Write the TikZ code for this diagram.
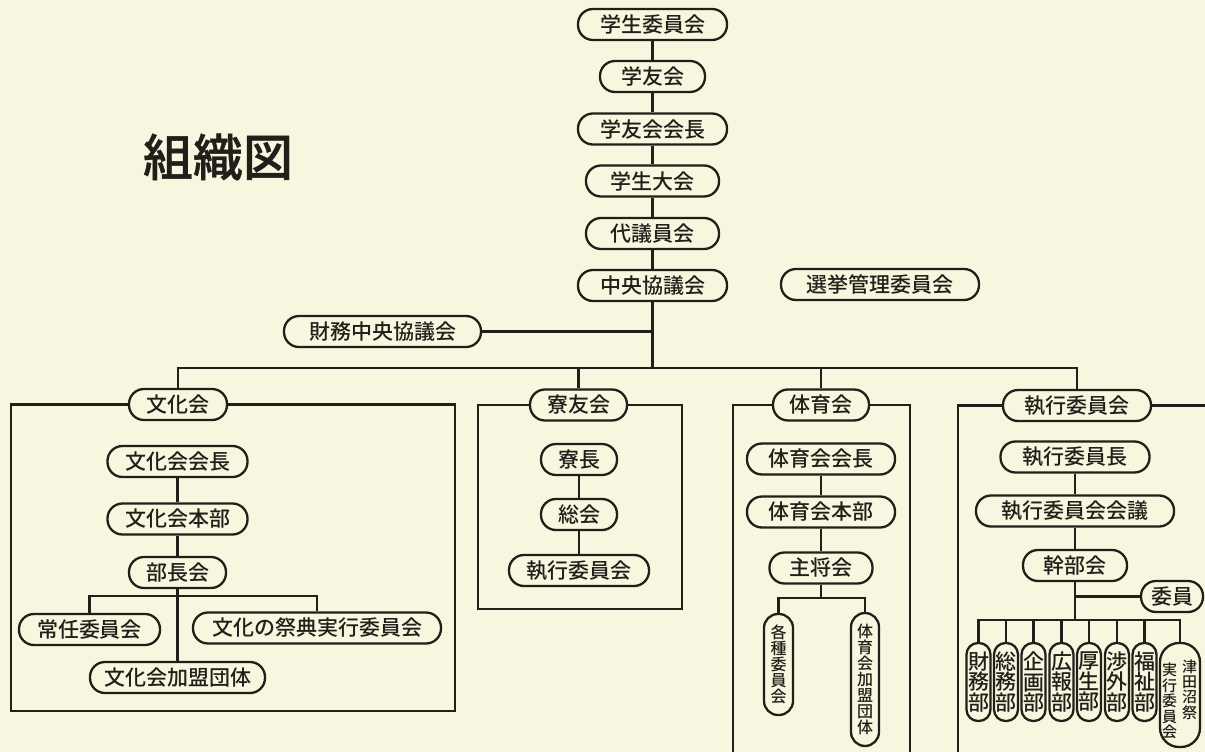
\documentclass[tikz,border=0pt]{standalone}
\usepackage{fontspec}
\setmainfont{Noto Sans CJK JP Medium}
\newfontfamily\ttlfont[FakeBold=0.8]{Noto Sans CJK JP Medium}
\definecolor{ink}{HTML}{221E1A}
\definecolor{bg}{HTML}{F8F6DF}
\begin{document}
\begin{tikzpicture}[x=1pt,y=-1pt,
  box/.style={draw=ink, fill=bg, line width=2.3pt, rounded corners=15pt, inner sep=0pt,
    minimum height=31pt, text=ink, font=\fontsize{21}{21}\selectfont},
  vbox/.style={box, rounded corners=14pt, align=center, font=\fontsize{16}{16.1}\selectfont},
  bubox/.style={box, rounded corners=11.5pt, align=center, minimum width=24pt, minimum height=78pt,
    font=\fontsize{21}{20.5}\selectfont},
  vtext/.style={inner sep=0pt, align=center, text=ink, font=\fontsize{15}{15.4}\selectfont},
  link/.style={draw=ink, line width=2.3pt},
  title/.style={inner sep=0pt, text=ink, font=\ttlfont\fontsize{50}{50}\selectfont}]
\fill[bg] (0,0) rectangle (1205,752);
\useasboundingbox (0,0) rectangle (1205,752);

\node[title] (ttl) at (218,157) {組織図};

% top column
\node[box, minimum width=149pt] (iin) at (652.5,24.5) {学生委員会};
\node[box, minimum width=105pt] (gakuyu) at (652.5,76.5) {学友会};
\node[box, minimum width=149pt] (kaicho) at (652.5,129) {学友会会長};
\node[box, minimum width=133pt] (taikai) at (652.5,181) {学生大会};
\node[box, minimum width=133pt] (daigi) at (652.5,233.5) {代議員会};
\node[box, minimum width=149pt] (chuo) at (652.5,285.5) {中央協議会};
\node[box, minimum width=198pt] (senkyo) at (880,284.5) {選挙管理委員会};
\node[box, minimum width=197pt] (zaimu) at (382.5,331.5) {財務中央協議会};

\draw[link] (iin) -- (gakuyu);
\draw[link] (gakuyu) -- (kaicho);
\draw[link] (kaicho) -- (taikai);
\draw[link] (taikai) -- (daigi);
\draw[link] (daigi) -- (chuo);
\coordinate (busC) at (652.5,368);
\draw[link] (chuo) -- (busC);
\draw[link] (zaimu.east) -- (zaimu.east -| busC);

% second level
\node[box, minimum width=98pt] (bunka) at (178,404.5) {文化会};
\node[box, minimum width=97pt] (ryoyu) at (578.5,405) {寮友会};
\node[box, minimum width=96pt] (taiiku) at (821,405) {体育会};
\node[box, minimum width=148pt] (shikko) at (1077,405.5) {執行委員会};

\draw[link] (bunka) |- (busC) -| (shikko);
\draw[link] (ryoyu) -- (ryoyu |- busC);
\draw[link] (taiiku) -- (taiiku |- busC);

% frames
\draw[link] (bunka.west) -- (11,404.5) -- (11,711) -- (455,711) -- (455,404.5) -- (bunka.east);
\draw[link] (ryoyu.west) -- (478,405) -- (478,609) -- (682,609) -- (682,405) -- (ryoyu.east);
\draw[link] (taiiku.west) -- (733,405) -- (733,752);
\draw[link] (taiiku.east) -- (910,405) -- (910,752);
\draw[link] (shikko.west) -- (958,405.5) -- (958,752);
\draw[link] (shikko.east) -- (1205,405.5);

% 文化会
\node[box, minimum width=140pt] (bk1) at (177.5,461.5) {文化会会長};
\node[box, minimum width=140pt] (bk2) at (177.5,519) {文化会本部};
\node[box, minimum width=97pt] (bk3) at (177.5,572.5) {部長会};
\node[box, minimum width=141pt] (bk4) at (89.5,629.5) {常任委員会};
\node[box, minimum width=248pt] (bk5) at (317,628) {文化の祭典実行委員会};
\node[box, minimum width=175pt] (bk6) at (177.5,677.5) {文化会加盟団体};
\draw[link] (bk1) -- (bk2);
\draw[link] (bk2) -- (bk3);
\draw[link] (bk3) -- (bk6);
\coordinate (bkbr) at (177.5,596);
\draw[link] (bk4) |- (bkbr) -| (bk5);

% 寮友会
\node[box, minimum width=76pt] (r1) at (579,459.5) {寮長};
\node[box, minimum width=76pt] (r2) at (579,514.5) {総会};
\node[box, minimum width=140pt] (r3) at (579,570.5) {執行委員会};
\draw[link] (r1) -- (r2);
\draw[link] (r2) -- (r3);

% 体育会
\node[box, minimum width=148pt] (t1) at (821,459) {体育会会長};
\node[box, minimum width=148pt] (t2) at (821,512) {体育会本部};
\node[box, minimum width=103pt] (t3) at (821,568) {主将会};
\node[vbox, minimum width=29pt, minimum height=101pt] (t4) at (778.5,664.5) {各\\種\\委\\員\\会};
\node[vbox, minimum width=28pt, minimum height=133pt] (t5) at (865,679.5) {体\\育\\会\\加\\盟\\団\\体};
\draw[link] (t1) -- (t2);
\draw[link] (t2) -- (t3);
\coordinate (tbr) at (821,598);
\draw[link] (t3) -- (tbr);
\draw[link] (t4) |- (tbr) -| (t5);

% 執行委員会
\node[box, minimum width=149pt] (s1) at (1075,457) {執行委員長};
\node[box, minimum width=198pt] (s2) at (1075,511) {執行委員会会議};
\node[box, minimum width=104pt] (s3) at (1075,565.5) {幹部会};
\node[box, minimum width=62pt] (s4) at (1172,596.5) {委員};
\draw[link] (s1) -- (s2);
\draw[link] (s2) -- (s3);
\coordinate (sbr) at (1075,620);
\draw[link] (s3) -- (sbr);
\draw[link] (s4) -- (s4 -| sbr);

\node[bubox] (b1) at (978.5,682) {財\\務\\部};
\node[bubox] (b2) at (1006,682) {総\\務\\部};
\node[bubox] (b3) at (1033.5,682) {企\\画\\部};
\node[bubox] (b4) at (1061.5,682) {広\\報\\部};
\node[bubox] (b5) at (1089,682) {厚\\生\\部};
\node[bubox] (b6) at (1117,682) {渉\\外\\部};
\node[bubox] (b7) at (1144.5,682) {福\\祉\\部};
\node[box, rounded corners=19pt, minimum width=40pt, minimum height=104pt] (b8) at (1180,695) {};
\node[vtext] (b8r) at (1189.5,689.5) {津\\田\\沼\\祭};
\node[vtext] (b8l) at (1169.5,701) {実\\行\\委\\員\\会};
\draw[link] (b1) |- (sbr) -| (b8);
\foreach \b in {b2,b3,b4,b5,b6,b7} { \draw[link] (\b) -- (\b |- sbr); }
\end{tikzpicture}
\end{document}
